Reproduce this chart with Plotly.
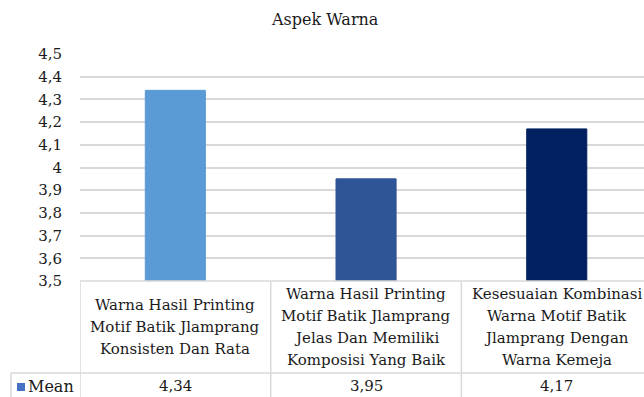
import plotly.graph_objects as go

title = "Aspek Warna"
series_name = "Mean"
categories = [
    "Warna Hasil Printing<br>Motif Batik Jlamprang<br>Konsisten Dan Rata",
    "Warna Hasil Printing<br>Motif Batik Jlamprang<br>Jelas Dan Memiliki<br>Komposisi Yang Baik",
    "Kesesuaian Kombinasi<br>Warna Motif Batik<br>Jlamprang Dengan<br>Warna Kemeja",
]
values = [4.34, 3.95, 4.17]
value_labels = ["4,34", "3,95", "4,17"]
bar_colors = ["#5B9BD5", "#2F5597", "#002060"]
tick_vals = [3.5, 3.6, 3.7, 3.8, 3.9, 4.0, 4.1, 4.2, 4.3, 4.4, 4.5]
tick_text = ["3,5", "3,6", "3,7", "3,8", "3,9", "4", "4,1", "4,2", "4,3", "4,4", "4,5"]

FONT = "DejaVu Serif"
FS = 15
TXT = "#1a1a1a"
W, H = 644, 397
ML, MT, MB = 80, 54, 116
plot_h = H - MT - MB
plot_w = W - ML

def py(p):  # pixel y -> paper y
    return (H - MB - p) / plot_h

def px(p):  # pixel x -> paper x
    return (p - ML) / plot_w

xs = list(range(len(categories)))

fig = go.Figure()
fig.add_trace(go.Bar(
    x=xs, y=values, name=series_name,
    marker=dict(color=bar_colors, line=dict(color=bar_colors, width=1)),
    width=0.315, showlegend=False,
))

grid = "#D9D9D9"
shapes = []
shapes.append(dict(type="line", xref="x", yref="paper", x0=-0.5, x1=2.6, y0=0, y1=0,
                   line=dict(color=grid, width=1.5)))
shapes.append(dict(type="line", xref="paper", yref="paper", x0=px(11), x1=1.02,
                   y0=py(373), y1=py(373), line=dict(color=grid, width=1.5)))
shapes.append(dict(type="line", xref="x", yref="paper", x0=-0.5, x1=-0.5,
                   y0=0, y1=py(400), line=dict(color=grid, width=1.5)))
shapes.append(dict(type="line", xref="paper", yref="paper", x0=px(11), x1=px(11),
                   y0=py(373), y1=py(400), line=dict(color=grid, width=1.5)))
for b in [0.5, 1.5]:
    shapes.append(dict(type="line", xref="x", yref="paper", x0=b, x1=b,
                       y0=0, y1=py(400), line=dict(color=grid, width=1.5)))
shapes.append(dict(type="rect", xref="paper", yref="paper", x0=px(17), x1=px(25),
                   y0=py(391), y1=py(383), fillcolor="#4472C4", line=dict(width=0)))

annotations = []
LINE = 21.7
ROW_C = 327
for i, c in enumerate(categories):
    lines = c.split("<br>")
    n = len(lines)
    for k, ln in enumerate(lines):
        yc = ROW_C + (k - (n - 1) / 2) * LINE
        annotations.append(dict(x=i, y=py(yc), xref="x", yref="paper", text=ln, showarrow=False,
                                font=dict(family=FONT, size=FS, color=TXT),
                                xanchor="center", yanchor="middle"))
    annotations.append(dict(x=i, y=py(386), xref="x", yref="paper", text=value_labels[i],
                            showarrow=False, font=dict(family=FONT, size=FS, color=TXT),
                            xanchor="center", yanchor="middle"))
annotations.append(dict(x=px(26), y=py(386), xref="paper", yref="paper", text=series_name,
                        showarrow=False, font=dict(family=FONT, size=16, color=TXT),
                        xanchor="left", yanchor="middle"))

fig.update_layout(
    width=W, height=H,
    margin=dict(l=ML, r=0, t=MT, b=MB),
    paper_bgcolor="white", plot_bgcolor="white",
    title=dict(text=title, x=0.505, xref="container", xanchor="center", y=1 - 19 / H,
               yref="container", yanchor="middle",
               font=dict(family=FONT, size=16, color=TXT)),
    xaxis=dict(range=[-0.5, -0.5 + plot_w / 190.7], showticklabels=False, showgrid=False,
               zeroline=False, showline=False, ticks=""),
    yaxis=dict(range=[3.5, 4.5], tickvals=tick_vals, ticktext=tick_text, showgrid=True,
               gridcolor=grid, gridwidth=1.5, zeroline=False, showline=False, ticks="",
               ticklabelstandoff=17, tickfont=dict(family=FONT, size=FS, color=TXT)),
    shapes=shapes, annotations=annotations,
)

fig.write_html("out.html")
